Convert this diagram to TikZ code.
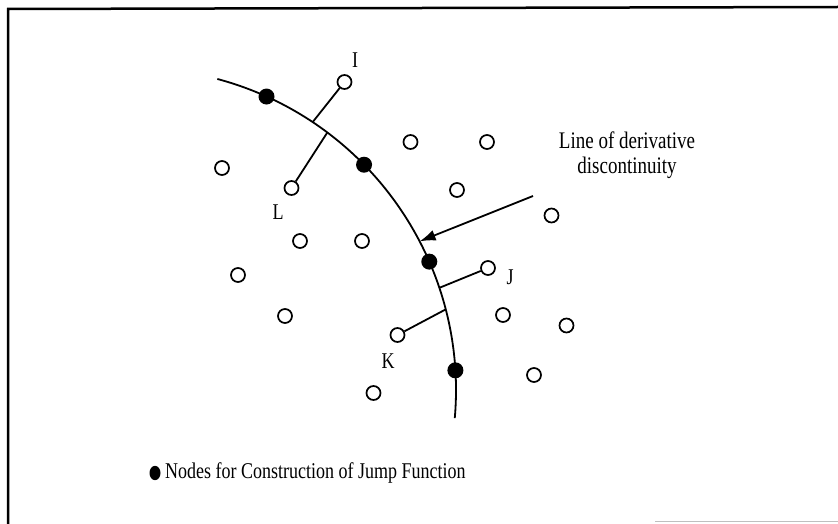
\documentclass[tikz,border=0pt]{standalone}
\usepackage{fontspec}
\setmainfont{Liberation Serif}
\usetikzlibrary{arrows.meta}
\definecolor{ink}{HTML}{000000}
\newcommand{\tall}[1]{\scalebox{1}[1.25]{#1}}

\begin{document}
\begin{tikzpicture}[x=1pt,y=-1pt,font=\fontsize{18}{26}\selectfont,
  grid/.style={circle,draw=ink,line width=1.7pt,fill=white,minimum size=14pt,inner sep=0pt},
  jump/.style={circle,fill=ink,minimum size=16pt,inner sep=0pt},
  tag/.style={inner sep=0pt,text=ink}]
  \useasboundingbox (0,0) rectangle (838,524);
  \draw[ink,line width=2.5pt] (8,524) -- (8,9) -- (838,7);
  \draw[black!25,line width=1pt] (655,521) -- (838,521);
  \coordinate (ctr) at (134,390);
  \draw[ink,line width=1.8pt] (ctr) ++(-75:322) arc[start angle=-75,end angle=5,radius=322];
  \foreach \a [count=\i] in {-65.7,-44.4,-23.5,-3.5}
    \path (ctr) ++(\a:322) node[jump] (j\i) {};
  \foreach \a/\nm in {-56.3/fI,-53.1/fL,-18.5/fJ,-14.5/fK,-27.5/hit}
    \path (ctr) ++(\a:322) coordinate (\nm);
  \foreach \x/\y [count=\i] in {222/168, 410.5/142, 487/142, 457/190, 551.5/215.5,
      300/241, 362/241, 238/275, 285/316, 503/315, 566.5/325.5, 534/375, 373.5/393}
    \node[grid] (o\i) at (\x,\y) {};
  \node[grid] (I) at (344.5,82) {};
  \node[grid] (L) at (291.5,188) {};
  \node[grid] (J) at (488,268) {};
  \node[grid] (K) at (397.5,335) {};
  \foreach \n in {I,L,J,K}
    \draw[ink,line width=1.8pt] (\n) -- (f\n);
  \node[tag] (lI) at (355,60) {\tall{I}};
  \node[tag] (lL) at (278,212) {\tall{L}};
  \node[tag] (lJ) at (510,277) {\tall{J}};
  \node[tag] (lK) at (388,361) {\tall{K}};
  \node[tag,align=center,font=\fontsize{19}{25}\selectfont] (lbl) at (627,155) {\tall{Line of derivative}\\\tall{discontinuity}};
  \coordinate (tail) at (533,196);
  \draw[ink,line width=1.8pt,-{Latex[length=16pt,width=11pt]}] (tail) -- (hit);
  \node[circle,fill=ink,minimum size=11pt,inner sep=0pt,yscale=1.3] (key) at (155,473) {};
  \node[tag,anchor=west] (keytxt) at (165,473) {\tall{Nodes for Construction of Jump Function}};
\end{tikzpicture}
\end{document}
